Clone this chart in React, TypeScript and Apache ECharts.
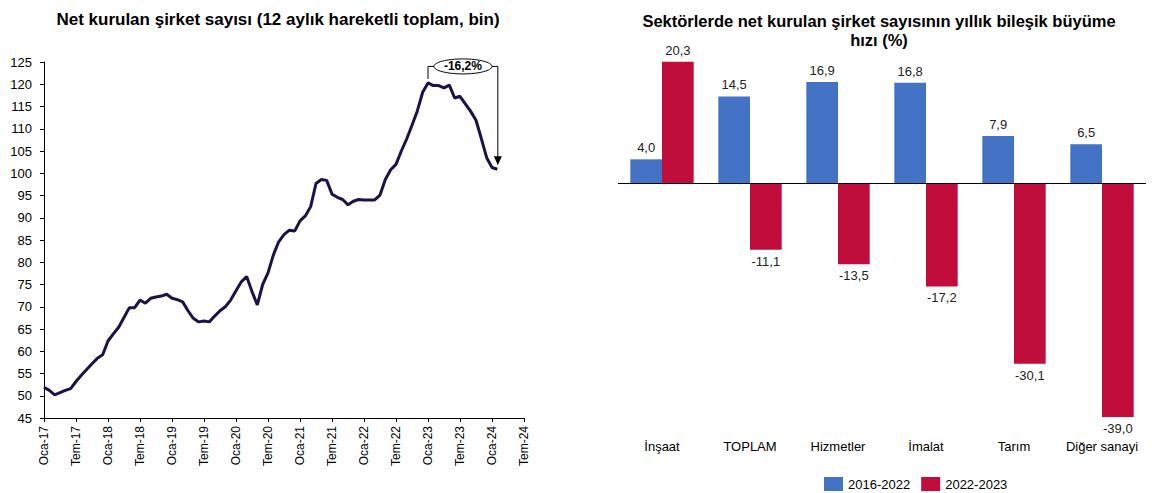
import React, { useEffect, useRef } from "react";
import * as echarts from "echarts";

// ---- Left chart data: monthly, Oca-17 .. Şub-24 (12-month moving total, thousand)
const monthAbbr = ["Oca", "Şub", "Mar", "Nis", "May", "Haz", "Tem", "Ağu", "Eyl", "Eki", "Kas", "Ara"];
const firmCounts = [
  51.9, 51.2, 50.2, 50.7, 51.2, 51.6, 53.2, 54.6, 55.9, 57.2, 58.4, 59.2,
  62.3, 63.9, 65.4, 67.6, 69.8, 69.8, 71.5, 70.8, 71.9, 72.2, 72.4, 72.8,
  71.9, 71.6, 71.1, 69.1, 67.4, 66.6, 66.8, 66.6, 67.9, 69.1, 70.0, 71.5,
  73.6, 75.6, 76.8, 73.4, 70.4, 75.0, 77.6, 81.6, 84.6, 86.2, 87.2, 87.0,
  89.3, 90.4, 92.5, 97.7, 98.6, 98.4, 95.3, 94.6, 94.1, 92.9, 93.7, 94.1,
  94.0, 94.0, 94.0, 95.1, 98.6, 100.8, 102.0, 105.0, 107.7, 110.8, 114.0, 118.2,
  120.3, 119.7, 119.7, 119.2, 119.8, 116.9, 117.3, 115.6, 113.9, 111.9, 107.8, 103.5,
  101.3, 100.9,
];
const changeLabel = "-16,2%";
const peakIndex = 72;

// Month categories Oca-17 .. Tem-24
const monthCategories: string[] = [];
for (let y = 17; y <= 24; y++) {
  for (let m = 0; m < 12; m++) {
    if (y === 24 && m > 6) break;
    monthCategories.push(`${monthAbbr[m]}-${y}`);
  }
}

// ---- Right chart data
const sectors = ["İnşaat", "TOPLAM", "Hizmetler", "İmalat", "Tarım", "Diğer sanayi"];
const growth2016_2022 = [4.0, 14.5, 16.9, 16.8, 7.9, 6.5];
const growth2022_2023 = [20.3, -11.1, -13.5, -17.2, -30.1, -39.0];
const seriesNames = ["2016-2022", "2022-2023"];

const FONT = "'Liberation Sans', Arial, sans-serif";

const fmt = (v: number) => v.toFixed(1).replace(".", ",");

const barData = (arr: number[]) =>
  arr.map((v) => ({
    value: v,
    label: { position: v >= 0 ? "top" : "bottom" },
  }));

export default function App() {
  const ref = useRef<HTMLDivElement>(null);

  useEffect(() => {
    document.body.style.margin = "0";
    if (!ref.current) return;
    const chart = echarts.init(ref.current, undefined, { renderer: "svg" });

    const option: any = {
      animation: false,
      textStyle: { fontFamily: FONT },
      title: [
        {
          text: "Net kurulan şirket sayısı (12 aylık hareketli toplam, bin)",
          left: 273,
          top: 6,
          textAlign: "center",
          textStyle: { fontFamily: FONT, fontSize: 17, fontWeight: "bold", color: "#000" },
        },
        {
          text: "Sektörlerde net kurulan şirket sayısının yıllık bileşik büyüme\nhızı (%)",
          left: 874,
          top: 6,
          textAlign: "center",
          textStyle: { fontFamily: FONT, fontSize: 16.5, fontWeight: "bold", color: "#000", lineHeight: 19 },
        },
      ],
      legend: {
        data: seriesNames,
        left: 819,
        top: 472,
        icon: "rect",
        itemWidth: 19,
        itemHeight: 14,
        itemGap: 11,
        textStyle: { fontFamily: FONT, fontSize: 13, color: "#000" },
      },
      grid: [
        { left: 44, top: 62, width: 480, height: 356 },
        { left: 618, top: 33.5, width: 528, height: 389.5 },
      ],
      xAxis: [
        {
          type: "category",
          gridIndex: 0,
          data: monthCategories,
          boundaryGap: false,
          axisLine: { lineStyle: { color: "#000", width: 1 } },
          axisTick: { interval: 5, length: 4, lineStyle: { color: "#000" } },
          axisLabel: {
            interval: 5,
            rotate: 90,
            margin: 8,
            fontSize: 12,
            color: "#000",
            fontFamily: FONT,
          },
          splitLine: { show: false },
        },
        {
          type: "category",
          gridIndex: 1,
          data: sectors,
          axisLine: { show: false, onZero: false },
          axisTick: { show: false },
          axisLabel: { interval: 0, margin: 17, fontSize: 13, color: "#000", fontFamily: FONT },
        },
      ],
      yAxis: [
        {
          type: "value",
          gridIndex: 0,
          min: 45,
          max: 125,
          interval: 5,
          axisLine: { show: true, lineStyle: { color: "#000", width: 1 } },
          axisTick: { show: true, length: 4, lineStyle: { color: "#000" } },
          axisLabel: { margin: 12, fontSize: 13, color: "#000", fontFamily: FONT },
          splitLine: { show: false },
        },
        {
          type: "value",
          gridIndex: 1,
          min: -40,
          max: 25,
          show: false,
          splitLine: { show: false },
        },
      ],
      series: [
        {
          type: "line",
          xAxisIndex: 0,
          yAxisIndex: 0,
          data: firmCounts,
          showSymbol: false,
          symbol: "none",
          lineStyle: { color: "#1F1147", width: 3 },
          silent: true,
        },
        {
          name: seriesNames[0],
          type: "bar",
          xAxisIndex: 1,
          yAxisIndex: 1,
          data: barData(growth2016_2022),
          barGap: "0%",
          barCategoryGap: "28%",
          itemStyle: { color: "#4472C4" },
          label: {
            show: true,
            fontSize: 13,
            color: "#222",
            fontFamily: FONT,
            distance: 5,
            formatter: (p: any) => fmt(p.value),
          },
          markLine: {
            silent: true,
            symbol: "none",
            label: { show: false },
            lineStyle: { color: "#000", width: 1, type: "solid" },
            data: [{ yAxis: 0 }],
          },
        },
        {
          name: seriesNames[1],
          type: "bar",
          xAxisIndex: 1,
          yAxisIndex: 1,
          data: barData(growth2022_2023),
          barGap: "0%",
          barCategoryGap: "28%",
          itemStyle: { color: "#C00D3C" },
          label: {
            show: true,
            fontSize: 13,
            color: "#222",
            fontFamily: FONT,
            distance: 5,
            formatter: (p: any) => fmt(p.value),
          },
        },
      ],
    };

    chart.setOption(option);

    // Annotation bracket from peak to latest value
    const lastIndex = firmCounts.length - 1;
    const peak = chart.convertToPixel({ gridIndex: 0 }, [peakIndex, firmCounts[peakIndex]]) as number[];
    const last = chart.convertToPixel({ gridIndex: 0 }, [lastIndex, firmCounts[lastIndex]]) as number[];
    const px = peak[0];
    const lx = last[0] + 0.5;
    const topY = peak[1] - 16.5;
    const cx = (px + lx) / 2;
    const rx = 29;
    const ry = 7.5;
    const tipY = last[1] - 4;
    const stroke = { stroke: "#000", lineWidth: 1 };
    chart.setOption({
      graphic: [
        { type: "polyline", shape: { points: [[px, peak[1] - 4], [px, topY], [cx - rx, topY]] }, style: { ...stroke, fill: null } },
        { type: "polyline", shape: { points: [[cx + rx, topY], [lx, topY], [lx, tipY - 8]] }, style: { ...stroke, fill: null } },
        { type: "polygon", shape: { points: [[lx - 4, tipY - 9], [lx + 4, tipY - 9], [lx, tipY]] }, style: { fill: "#000" } },
        { type: "ellipse", shape: { cx, cy: topY, rx, ry }, style: { fill: "#fff", stroke: "#000", lineWidth: 1 } },
        {
          type: "text",
          x: cx,
          y: topY,
          style: {
            text: changeLabel,
            fontFamily: FONT,
            fontSize: 12,
            fontWeight: "bold",
            fill: "#000",
            align: "center",
            verticalAlign: "middle",
          },
        },
      ],
    });

    return () => chart.dispose();
  }, []);

  return <div ref={ref} style={{ width: 1154, height: 493 }} />;
}
